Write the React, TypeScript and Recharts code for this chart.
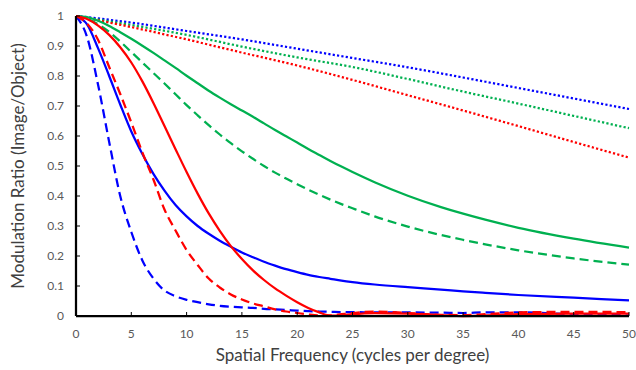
import { Line, LineChart, XAxis, YAxis } from "recharts";

// spatial frequency samples (cycles per degree)
const curveFreq = [0, 1, 2, 3, 4, 5, 6, 7, 8, 9, 10, 11, 12, 13, 14, 15, 16, 17, 18, 19, 20, 21, 22, 23, 24, 25, 27, 30, 33, 35, 37, 40, 45, 50];
const dottedFreq = [0, 5, 10, 15, 20, 25, 30, 35, 40, 45, 50];

const blueDashed = [1, 0.93, 0.77, 0.58, 0.4, 0.28, 0.185, 0.125, 0.085, 0.066, 0.054, 0.046, 0.039, 0.034, 0.031, 0.029, 0.027, 0.024, 0.022, 0.02, 0.018, 0.016, 0.015, 0.014, 0.013, 0.013, 0.012, 0.012, 0.011, 0.01, 0.012, 0.012, 0.006, 0.002];
const blueSolid = [1, 0.972, 0.892, 0.8, 0.705, 0.615, 0.54, 0.474, 0.418, 0.37, 0.332, 0.3, 0.274, 0.251, 0.231, 0.212, 0.196, 0.181, 0.168, 0.156, 0.146, 0.137, 0.13, 0.124, 0.118, 0.113, 0.105, 0.096, 0.088, 0.082, 0.077, 0.07, 0.061, 0.052];
const redDashed = [1, 0.975, 0.92, 0.83, 0.74, 0.645, 0.545, 0.455, 0.355, 0.285, 0.22, 0.17, 0.125, 0.095, 0.072, 0.055, 0.042, 0.032, 0.022, 0.015, 0.01, 0.005, 0.002, 0.002, 0.006, 0.01, 0.015, 0.01, 0.004, 0.003, 0.006, 0.012, 0.014, 0.013];
const redSolid = [1, 0.99, 0.968, 0.937, 0.896, 0.845, 0.782, 0.71, 0.633, 0.556, 0.48, 0.408, 0.342, 0.284, 0.233, 0.19, 0.152, 0.12, 0.092, 0.068, 0.046, 0.027, 0.012, 0.001, 0.002, 0.006, 0.01, 0.008, 0.003, 0, 0.002, 0.006, 0.008, 0.008];
const greenSolid = [1, 0.996, 0.984, 0.967, 0.946, 0.924, 0.901, 0.877, 0.852, 0.827, 0.801, 0.776, 0.751, 0.728, 0.706, 0.685, 0.664, 0.642, 0.62, 0.599, 0.578, 0.557, 0.537, 0.517, 0.498, 0.48, 0.446, 0.401, 0.363, 0.341, 0.321, 0.294, 0.258, 0.228];
const greenDashed = [1, 0.992, 0.972, 0.947, 0.915, 0.88, 0.845, 0.81, 0.775, 0.739, 0.703, 0.669, 0.636, 0.605, 0.576, 0.549, 0.524, 0.5, 0.478, 0.458, 0.439, 0.421, 0.404, 0.388, 0.373, 0.359, 0.332, 0.298, 0.27, 0.254, 0.239, 0.219, 0.192, 0.171];
const blueDotted = [1, 0.978, 0.95, 0.922, 0.891, 0.86, 0.829, 0.795, 0.76, 0.725, 0.69];
const greenDotted = [1, 0.97, 0.937, 0.898, 0.862, 0.83, 0.79, 0.748, 0.708, 0.667, 0.626];
const redDotted = [1, 0.963, 0.922, 0.878, 0.835, 0.787, 0.736, 0.685, 0.633, 0.58, 0.528];

const xTicks = [0, 5, 10, 15, 20, 25, 30, 35, 40, 45, 50];
const yTicks = [0, 0.1, 0.2, 0.3, 0.4, 0.5, 0.6, 0.7, 0.8, 0.9, 1];

const BLUE = "#0000ff";
const RED = "#ff0000";
const GREEN = "#00b050";
const DASH = "9 5";
const DOT = "2.2 2.2";

const toPoints = (freq: number[], values: number[]) => freq.map((f, i) => ({ f, v: values[i] }));

const series = [
  { name: "blueDotted", data: toPoints(dottedFreq, blueDotted), color: BLUE, dash: DOT },
  { name: "greenDotted", data: toPoints(dottedFreq, greenDotted), color: GREEN, dash: DOT },
  { name: "redDotted", data: toPoints(dottedFreq, redDotted), color: RED, dash: DOT },
  { name: "greenSolid", data: toPoints(curveFreq, greenSolid), color: GREEN },
  { name: "greenDashed", data: toPoints(curveFreq, greenDashed), color: GREEN, dash: DASH },
  { name: "blueSolid", data: toPoints(curveFreq, blueSolid), color: BLUE },
  { name: "blueDashed", data: toPoints(curveFreq, blueDashed), color: BLUE, dash: DASH },
  { name: "redSolid", data: toPoints(curveFreq, redSolid), color: RED },
  { name: "redDashed", data: toPoints(curveFreq, redDashed), color: RED, dash: DASH },
];

const font = "Lato, 'Open Sans', sans-serif";

export default function App() {
  return (
    <div style={{ position: "absolute", left: 0, top: 0, background: "#fff" }}>
      <LineChart width={636} height={370} margin={{ top: 16, right: 7, bottom: 0, left: 20 }}>
        <XAxis
          dataKey="f"
          type="number"
          domain={[0, 50]}
          ticks={xTicks}
          allowDuplicatedCategory={false}
          height={54}
          tickSize={-4}
          tickMargin={17}
          axisLine={{ stroke: "#000", strokeWidth: 2.25 }}
          tickLine={{ stroke: "#000", strokeWidth: 1 }}
          tick={{ fill: "#595959", fontSize: 12, fontFamily: font }}
          label={{ value: "Spatial Frequency (cycles per degree)", position: "center", dy: 12, fill: "#404040", fontSize: 17, fontFamily: font }}
        />
        <YAxis
          type="number"
          domain={[0, 1]}
          ticks={yTicks}
          width={56}
          tickSize={-4}
          tickMargin={16}
          axisLine={{ stroke: "#000", strokeWidth: 2.25 }}
          tickLine={{ stroke: "#000", strokeWidth: 1 }}
          tick={{ fill: "#595959", fontSize: 12, fontFamily: font }}
          label={{ value: "Modulation Ratio (Image/Object)", angle: -90, position: "center", dx: -30, fill: "#404040", fontSize: 17, fontFamily: font }}
        />
        {series.map((s) => (
          <Line
            key={s.name}
            data={s.data}
            dataKey="v"
            type="monotone"
            stroke={s.color}
            strokeWidth={2.25}
            strokeDasharray={s.dash}
            dot={false}
            activeDot={false}
            isAnimationActive={false}
          />
        ))}
      </LineChart>
    </div>
  );
}
